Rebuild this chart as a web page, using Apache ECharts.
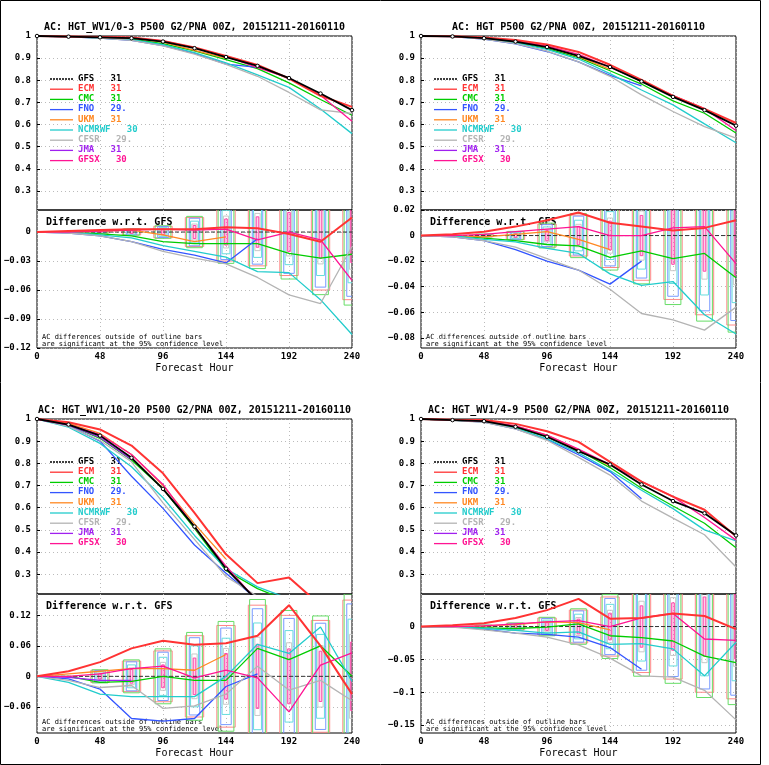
<!DOCTYPE html>
<html>
<head>
<meta charset="utf-8">
<script src="https://cdn.jsdelivr.net/npm/echarts@6/dist/echarts.min.js"></script>
<style>
html, body { margin: 0; padding: 0; background: #fff; }
#chart { width: 769px; height: 765px; }
</style>
</head>
<body>
<div id="chart"></div>
<script>
// forecast hours and model list
var hours = [0, 24, 48, 72, 96, 120, 144, 168, 192, 216, 240];
var models = ['ECM', 'CMC', 'FNO', 'UKM', 'NCMRWF', 'CFSR', 'JMA', 'GFSX'];
var counts = ['31', '31', '29.', '31', '30', '29.', '31', '30'];
var colors = ['#ff3333', '#00cc00', '#3355ff', '#ff8822', '#22cccc', '#b4b4b4', '#a020f0', '#ff1493'];

var titles = [
    'AC: HGT_WV1/0-3 P500 G2/PNA 00Z, 20151211-20160110',
    'AC: HGT P500 G2/PNA 00Z, 20151211-20160110',
    'AC: HGT_WV1/10-20 P500 G2/PNA 00Z, 20151211-20160110',
    'AC: HGT_WV1/4-9 P500 G2/PNA 00Z, 20151211-20160110'
];

// GFS anomaly correlation per panel
var p1Gfs = [1, 0.997, 0.994, 0.99, 0.975, 0.945, 0.905, 0.865, 0.81, 0.74, 0.665];
var p2Gfs = [1, 0.998, 0.99, 0.975, 0.95, 0.91, 0.86, 0.795, 0.725, 0.665, 0.595];
var p3Gfs = [1, 0.975, 0.925, 0.825, 0.685, 0.515, 0.325, 0.18, 0.145, 0.1, 0.08];
var p4Gfs = [1, 0.995, 0.99, 0.965, 0.92, 0.855, 0.795, 0.705, 0.63, 0.575, 0.475];

// differences w.r.t. GFS, in models order (ECM, CMC, FNO, UKM, NCMRWF, CFSR, JMA, GFSX)
var p1Diff = [
    [0, 0.001, 0.002, 0.003, 0.003, 0.003, 0.005, 0.004, -0.002, -0.01, 0.015],
    [0, 0, -0.002, -0.004, -0.01, -0.012, -0.012, -0.012, -0.022, -0.027, -0.023],
    [0, -0.001, -0.004, -0.01, -0.018, -0.024, -0.032, -0.007],
    [0, 0, 0.001, 0.002, -0.003, -0.01, -0.005],
    [0, 0, -0.003, -0.006, -0.014, -0.02, -0.026, -0.041, -0.042, -0.07, -0.106],
    [0, -0.001, -0.004, -0.01, -0.02, -0.027, -0.033, -0.047, -0.065, -0.074, -0.015],
    [],
    [0, 0, 0.001, 0.002, 0.003, 0.002, 0.003, -0.008, 0, -0.008, -0.05]
];
var p2Diff = [
    [0, 0.001, 0.003, 0.007, 0.012, 0.018, 0.01, 0.007, 0.004, 0.006, 0.012],
    [0, 0, -0.002, -0.004, -0.007, -0.008, -0.017, -0.012, -0.018, -0.014, -0.033],
    [0, -0.001, -0.004, -0.011, -0.02, -0.027, -0.038, -0.02],
    [0, 0, -0.001, 0.001, 0.003, -0.003, -0.011],
    [0, 0, -0.003, -0.005, -0.01, -0.014, -0.03, -0.039, -0.036, -0.062, -0.077],
    [0, -0.001, -0.004, -0.009, -0.018, -0.027, -0.042, -0.061, -0.066, -0.074, -0.056],
    [],
    [0, 0, 0.001, 0.003, 0.005, 0.007, 0, 0, 0.006, 0.007, -0.022]
];
var p3Diff = [
    [0, 0.01, 0.028, 0.055, 0.07, 0.062, 0.065, 0.08, 0.14, 0.06, -0.035],
    [0, 0, -0.012, -0.01, 0, -0.008, -0.008, 0.055, 0.033, 0.06, 0],
    [0, -0.005, -0.025, -0.083, -0.088, -0.083, -0.02, 0.005],
    [0, 0.005, 0.01, 0.015, 0.015, 0.012, 0.043],
    [0, -0.012, -0.035, -0.04, -0.04, -0.04, 0, 0.063, 0.045, 0.097, -0.01],
    [0, -0.008, -0.022, -0.018, -0.063, -0.058, -0.035, 0.02, -0.027, -0.008, -0.048],
    [0, -0.002, -0.008, -0.008],
    [0, 0, 0.005, 0.015, 0.02, -0.003, 0.012, -0.003, -0.07, 0.022, 0.046]
];
var p4Diff = [
    [0, 0.002, 0.005, 0.013, 0.025, 0.042, 0.012, 0.013, 0.02, 0.016, -0.004],
    [0, 0, -0.002, -0.003, -0.001, 0.004, -0.014, -0.017, -0.022, -0.045, -0.055],
    [0, 0, -0.004, -0.01, -0.012, -0.016, -0.032, -0.065],
    [0, 0, 0.001, 0.003, 0.007, 0.006, -0.005],
    [0, 0, -0.003, -0.006, -0.01, -0.008, -0.027, -0.026, -0.034, -0.075, -0.024],
    [0, -0.001, -0.005, -0.01, -0.016, -0.028, -0.048, -0.075, -0.077, -0.097, -0.142],
    [],
    [0, 0, 0.001, 0.004, 0.007, 0.009, 0, 0.013, 0.02, -0.019, -0.021]
];

// half-height of the 95% confidence outline bars per lead time
var p1Bars = [0, 0, 0.001, 0.003, 0.006, 0.015, 0.03, 0.035, 0.045, 0.06, 0.07];
var p2Bars = [0, 0, 0.001, 0.003, 0.009, 0.016, 0.025, 0.035, 0.05, 0.062, 0.07];
var p3Bars = [0, 0, 0.012, 0.03, 0.05, 0.08, 0.1, 0.14, 0.12, 0.11, 0.15];
var p4Bars = [0, 0, 0.002, 0.005, 0.013, 0.025, 0.045, 0.07, 0.08, 0.1, 0.11];

// axis label values
var topTicks = [0.3, 0.4, 0.5, 0.6, 0.7, 0.8, 0.9, 1];
var p1Ticks = [-0.12, -0.09, -0.06, -0.03, 0];
var p2Ticks = [-0.08, -0.06, -0.04, -0.02, 0, 0.02];
var p3Ticks = [-0.06, 0, 0.06, 0.12];
var p4Ticks = [-0.15, -0.1, -0.05, 0, 0.05];

var panels = [
    { gfs: p1Gfs, diff: p1Diff, bars: p1Bars, ticks: p1Ticks, topMin: 0.214, dmin: -0.12, dmax: 0.0228, left: 37, top: 36, mid: 210, bottom: 348 },
    { gfs: p2Gfs, diff: p2Diff, bars: p2Bars, ticks: p2Ticks, topMin: 0.214, dmin: -0.088, dmax: 0.02, left: 421, top: 36, mid: 210, bottom: 348 },
    { gfs: p3Gfs, diff: p3Diff, bars: p3Bars, ticks: p3Ticks, topMin: 0.211, dmin: -0.1115, dmax: 0.162, left: 37, top: 419, mid: 594, bottom: 733 },
    { gfs: p4Gfs, diff: p4Diff, bars: p4Bars, ticks: p4Ticks, topMin: 0.211, dmin: -0.162, dmax: 0.0495, left: 421, top: 419, mid: 594, bottom: 733 }
];
var plotW = 315;

var font = 'DejaVu Sans Mono';
var labelStyle = { fontFamily: font, fontWeight: 'bold', fontSize: 9, color: '#000' };

function fmt(v) {
    var s = String(Math.round(v * 1000) / 1000);
    return s.replace('-', '\u2212');
}

// outline bar styles: colour, half-width in hours, height scale
var barStyles = [
    { color: '#ff8888', w: 7, k: 1.0 },
    { color: '#66dd66', w: 6, k: 1.08 },
    { color: '#7799ff', w: 4, k: 0.95 },
    { color: '#66dddd', w: 3, k: 0.75 },
    { color: '#c8c8c8', w: 2, k: 0.55 },
    { color: '#ff44aa', w: 1, k: 0.45 }
];

var grids = [], xAxes = [], yAxes = [], series = [], graphics = [];

panels.forEach(function(p, pi) {
    var gTop = pi * 2, gBot = pi * 2 + 1;
    grids.push({ left: p.left, top: p.top, width: plotW, height: p.mid - p.top, show: true, borderColor: '#000', borderWidth: 1 });
    grids.push({ left: p.left, top: p.mid, width: plotW, height: p.bottom - p.mid, show: true, borderColor: '#000', borderWidth: 1 });

    var xBase = {
        type: 'value', min: 0, max: 240, interval: 48,
        axisLine: { show: false }, axisTick: { show: false },
        splitLine: { show: true, lineStyle: { color: '#bbb', type: [1, 3] } }
    };
    xAxes.push(Object.assign({ gridIndex: gTop, axisLabel: { show: false } }, xBase));
    xAxes.push(Object.assign({ gridIndex: gBot, axisLabel: Object.assign({ margin: 4 }, labelStyle) }, xBase));

    yAxes.push({
        gridIndex: gTop, type: 'value', min: p.topMin, max: 1,
        axisLine: { show: false },
        axisTick: { show: true, customValues: topTicks, length: 3, inside: true, lineStyle: { color: '#000' } },
        axisLabel: Object.assign({ customValues: topTicks, formatter: fmt, margin: 6 }, labelStyle),
        splitLine: { show: true, lineStyle: { color: '#bbb', type: [1, 3] } }
    });
    yAxes.push({
        gridIndex: gBot, type: 'value', min: p.dmin, max: p.dmax,
        axisLine: { show: false },
        axisTick: { show: true, customValues: p.ticks, length: 3, inside: true, lineStyle: { color: '#000' } },
        axisLabel: Object.assign({ customValues: p.ticks, formatter: fmt, margin: 6 }, labelStyle),
        splitLine: { show: true, lineStyle: { color: '#bbb', type: [1, 3] } }
    });

    // outline bars
    barStyles.forEach(function(bs, bi) {
        series.push({
            type: 'custom', xAxisIndex: gBot, yAxisIndex: gBot, clip: true, z: 1, silent: true,
            data: hours.map(function(h, i) { return [h, p.bars[i]]; }).filter(function(d) { return d[1] > 0; }),
            renderItem: function(params, api) {
                var x = api.value(0), hh = api.value(1) * bs.k;
                var a = api.coord([x - bs.w, hh]);
                var b = api.coord([x + bs.w, -hh]);
                return {
                    type: 'rect',
                    shape: { x: a[0], y: a[1], width: b[0] - a[0], height: b[1] - a[1] },
                    style: { fill: bi === 5 ? 'rgba(255,68,170,0.25)' : 'none', stroke: bs.color, lineWidth: 1 }
                };
            }
        });
    });

    // zero reference
    series.push({
        type: 'line', xAxisIndex: gBot, yAxisIndex: gBot, z: 3, symbol: 'none',
        data: [[0, 0], [240, 0]],
        lineStyle: { color: '#333', width: 1, type: [4, 2] }
    });

    // top: GFS and models
    series.push({
        type: 'line', xAxisIndex: gTop, yAxisIndex: gTop, z: 6, clip: true,
        data: hours.map(function(h, i) { return [h, p.gfs[i]]; }),
        symbol: 'circle', symbolSize: 3.5, showSymbol: true,
        itemStyle: { color: '#fff', borderColor: '#000', borderWidth: 1 },
        lineStyle: { color: '#000', width: 1.8 }
    });
    models.forEach(function(m, mi) {
        var d = p.diff[mi];
        series.push({
            type: 'line', xAxisIndex: gTop, yAxisIndex: gTop, z: mi === 0 ? 5 : 4, clip: true, symbol: 'none',
            data: d.map(function(v, i) { return [hours[i], Math.round((p.gfs[i] + v) * 1000) / 1000]; }),
            lineStyle: { color: colors[mi], width: mi === 0 ? 2 : 1.3 }
        });
        series.push({
            type: 'line', xAxisIndex: gBot, yAxisIndex: gBot, z: mi === 0 ? 5 : 4, clip: true, symbol: 'none',
            data: d.map(function(v, i) { return [hours[i], v]; }),
            lineStyle: { color: colors[mi], width: mi === 0 ? 2 : 1.3 }
        });
    });

    // texts
    var cx = p.left + plotW / 2;
    graphics.push({ type: 'text', x: cx, y: p.top - 9, style: { text: titles[pi], font: 'bold 10px ' + font, fill: '#000', align: 'center', verticalAlign: 'middle' } });
    graphics.push({ type: 'text', x: p.left + 9, y: p.mid + 7, style: { text: 'Difference w.r.t. GFS', font: 'bold 10px ' + font, fill: '#000' } });
    graphics.push({ type: 'text', x: p.left + 5, y: p.bottom - 14, style: { text: 'AC differences outside of outline bars\nare significant at the 95% confidence level', font: '7px ' + font, fill: '#000', lineHeight: 7 } });
    graphics.push({ type: 'text', x: cx, y: p.bottom + 20, style: { text: 'Forecast Hour', font: '10px ' + font, fill: '#000', align: 'center', verticalAlign: 'middle' } });

    // legend
    var legNames = ['GFS'].concat(models);
    var legCounts = ['31'].concat(counts);
    var legColors = ['#000'].concat(colors);
    legNames.forEach(function(n, li) {
        var y = p.top + 43 + li * 10.2;
        graphics.push({ type: 'line', shape: { x1: p.left + 13, y1: y, x2: p.left + 36, y2: y }, style: { stroke: legColors[li], lineWidth: li === 0 ? 1.5 : 1.3, lineDash: li === 0 ? [2, 1] : null } });
        graphics.push({ type: 'text', x: p.left + 41, y: y - 5, style: { text: n + '   ' + legCounts[li], font: 'bold 9px ' + font, fill: legColors[li] } });
    });
});

// outer frame
graphics.push({ type: 'rect', shape: { x: 0.5, y: 0.5, width: 760, height: 764 }, style: { fill: 'none', stroke: '#000', lineWidth: 1 } });

var chart = echarts.init(document.getElementById('chart'));
chart.setOption({
    animation: false,
    backgroundColor: '#fff',
    grid: grids,
    xAxis: xAxes,
    yAxis: yAxes,
    series: series,
    graphic: graphics
});
</script>
</body>
</html>
